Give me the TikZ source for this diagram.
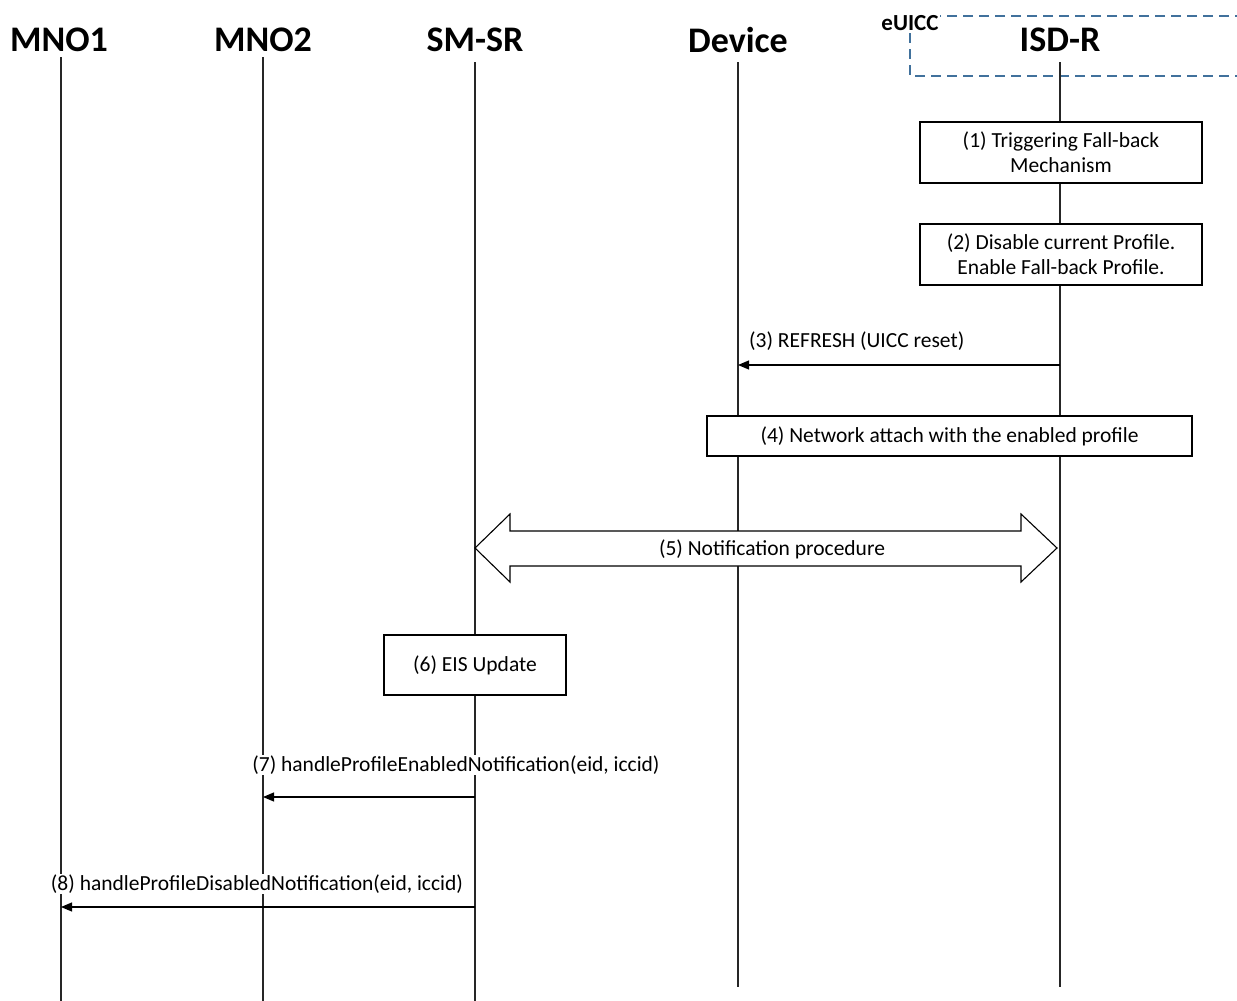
\documentclass[tikz,border=0pt]{standalone}
\usepackage{fontspec}
\setmainfont{Carlito}
\usetikzlibrary{arrows.meta}
\begin{document}
\begin{tikzpicture}[x=1pt,y=-1pt,
  life/.style={line width=1.1pt, draw=black!85},
  hdr/.style={font=\fontsize{36}{40}\selectfont\bfseries, inner sep=0pt},
  stepbox/.style={draw, line width=1.1pt, fill=white, align=center, font=\fontsize{21.5}{25}\selectfont, inner sep=0pt},
  msg/.style={line width=1.1pt, -{Triangle[length=11pt,width=9pt]}},
  lbl/.style={font=\fontsize{21.5}{25}\selectfont, fill=white, inner sep=1pt},
  euicc/.style={draw={rgb,255:red,65;green,113;blue,156}, line width=1.4pt, dash pattern=on 10pt off 6pt}]
\useasboundingbox (0,0) rectangle (1237,1001);
% eUICC dashed frame
\begin{scope}
\clip (0,0) rectangle (1237,1001);
\draw[euicc] (1245,16) -- (910,16) -- (910,76) -- (1245,76);
\end{scope}
\node[font=\fontsize{23}{26}\selectfont\bfseries, fill=white, inner sep=1pt] (euicclbl) at (910,23) {eUICC};
% headers
\node[hdr] (mno1) at (59,40) {MNO1};
\node[hdr] (mno2) at (263,40) {MNO2};
\node[hdr] (smsr) at (475,40) {SM-SR};
\node[hdr] (dev) at (738,40) {Device};
\node[hdr] (isdr) at (1060,40) {ISD-R};
% lifeline ends
\coordinate (mno1t) at (61,57);   \coordinate (mno1b) at (61,1001);
\coordinate (mno2t) at (263,57);  \coordinate (mno2b) at (263,1001);
\coordinate (smsrt) at (475,62);  \coordinate (smsrb) at (475,1001);
\coordinate (devt) at (738,62);   \coordinate (devb) at (738,987);
\coordinate (isdrt) at (1060,62); \coordinate (isdrb) at (1060,987);
\draw[life] (mno1t) -- (mno1b);
\draw[life] (mno2t) -- (mno2b);
\draw[life] (smsrt) -- (smsrb);
\draw[life] (devt) -- (devb);
\draw[life] (isdrt) -- (isdrb);
% (1) and (2)
\node[stepbox, minimum width=282pt, minimum height=61pt] (s1) at (1061,152.5) {(1) Triggering Fall-back\\Mechanism};
\node[stepbox, minimum width=282pt, minimum height=61pt] (s2) at (1061,254.5) {(2) Disable current Profile.\\Enable Fall-back Profile.};
% (3)
\coordinate (m3s) at (1060,365); \coordinate (m3e) at (738,365);
\draw[msg] (m3s) -- (m3e);
\node[lbl, anchor=west] (l3) at (748,341) {(3) REFRESH (UICC reset)};
% (4)
\node[stepbox, minimum width=485pt, minimum height=40pt] (s4) at (949.5,436) {(4) Network attach with the enabled profile};
% (5)
\draw[line width=1.1pt, fill=white] (475,548) -- (510,514) -- (510,531) -- (1021,531) -- (1021,514) -- (1057,548) -- (1021,582) -- (1021,566) -- (510,566) -- (510,582) -- cycle;
\node[font=\fontsize{21.5}{25}\selectfont, inner sep=1pt] (l5) at (772,549) {(5) Notification procedure};
% (6)
\node[stepbox, minimum width=182pt, minimum height=60pt] (s6) at (475,665) {(6) EIS Update};
% (7)
\coordinate (m7s) at (475,797); \coordinate (m7e) at (263,797);
\draw[msg] (m7s) -- (m7e);
\node[lbl] (l7) at (456,765) {(7) handleProfileEnabledNotification(eid, iccid)};
% (8)
\coordinate (m8s) at (475,907); \coordinate (m8e) at (61,907);
\draw[msg] (m8s) -- (m8e);
\node[lbl] (l8) at (257,884) {(8) handleProfileDisabledNotification(eid, iccid)};
\end{tikzpicture}
\end{document}
